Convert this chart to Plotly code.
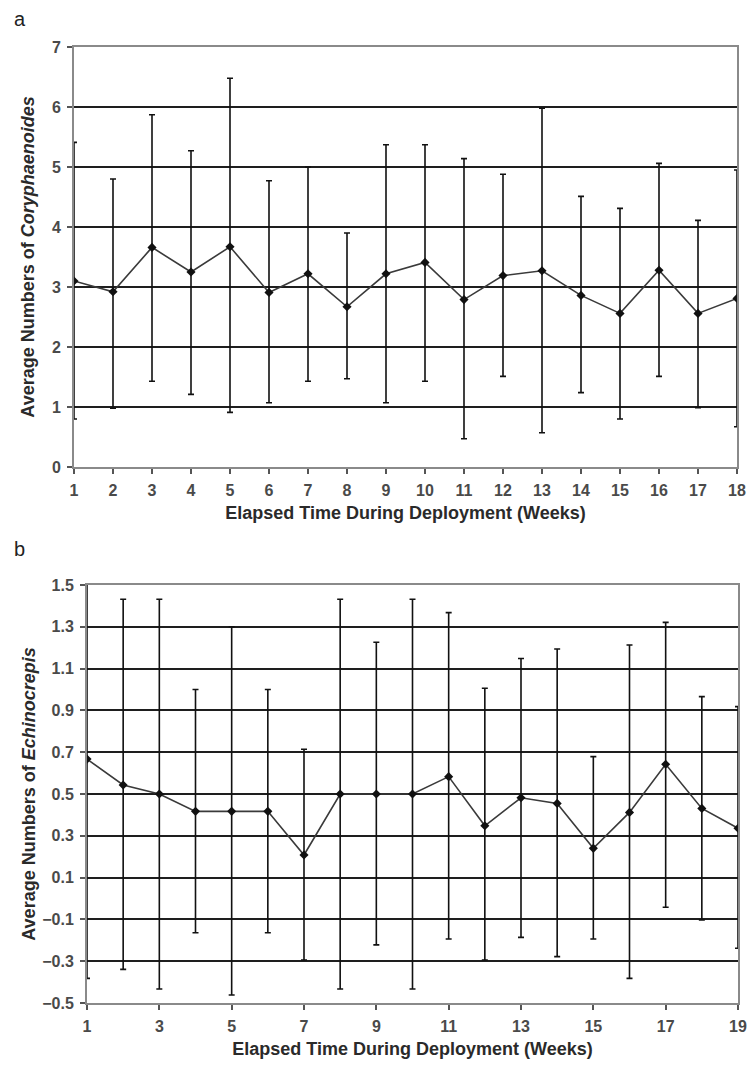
import plotly.graph_objects as go

# ---- data ----
weeks_a = list(range(1, 19))
mean_a = [3.10, 2.92, 3.66, 3.25, 3.67, 2.91, 3.22, 2.67, 3.22, 3.41, 2.79, 3.19, 3.27, 2.86, 2.56, 3.28, 2.56, 2.81]
upper_a = [5.41, 4.80, 5.87, 5.27, 6.48, 4.77, 5.00, 3.90, 5.37, 5.37, 5.14, 4.88, 5.98, 4.51, 4.31, 5.06, 4.11, 4.95]
lower_a = [0.80, 0.98, 1.43, 1.21, 0.91, 1.07, 1.43, 1.47, 1.07, 1.43, 0.47, 1.51, 0.57, 1.24, 0.80, 1.51, 0.99, 0.67]

weeks_b = list(range(1, 20))
mean_b = [0.667, 0.543, 0.50, 0.417, 0.417, 0.417, 0.208, 0.50, 0.50, 0.50, 0.583, 0.348, 0.482, 0.455, 0.240, 0.412, 0.642, 0.431, 0.336]
upper_b = [1.72, 1.432, 1.432, 1.00, 1.30, 1.00, 0.714, 1.432, 1.226, 1.432, 1.368, 1.006, 1.148, 1.194, 0.679, 1.213, 1.321, 0.966, 0.918]
lower_b = [-0.382, -0.339, -0.433, -0.164, -0.462, -0.164, -0.294, -0.433, -0.222, -0.433, -0.194, -0.294, -0.186, -0.278, -0.194, -0.382, -0.042, -0.103, -0.238]

x_title = "Elapsed Time During Deployment (Weeks)"
y_title_a = "Average Numbers of <i>Coryphaenoides</i>"
y_title_b = "Average Numbers of <i>Echinocrepis</i>"

FONT = "Liberation Sans, Arial, sans-serif"
W, H = 751, 1066

def err(mean, up, lo):
    return dict(type="data", symmetric=False,
                array=[u - m for u, m in zip(up, mean)],
                arrayminus=[m - l for m, l in zip(mean, lo)],
                color="#111111", thickness=1.6, width=3)

fig = go.Figure()
fig.add_trace(go.Scatter(
    x=weeks_a, y=mean_a, mode="lines+markers", xaxis="x", yaxis="y",
    line=dict(color="#3a3a3a", width=1.6),
    marker=dict(symbol="diamond", size=7, color="#111111"),
    error_y=err(mean_a, upper_a, lower_a), showlegend=False))
fig.add_trace(go.Scatter(
    x=weeks_b, y=mean_b, mode="lines+markers", xaxis="x2", yaxis="y2",
    line=dict(color="#3a3a3a", width=1.6),
    marker=dict(symbol="diamond", size=7, color="#111111"),
    error_y=err(mean_b, upper_b, lower_b), showlegend=False))

tickfont = dict(family=FONT, size=16, color="#4a4a4a", weight="bold")
titlefont = dict(family=FONT, size=18, color="#2a2a2a", weight="bold")

def xax(domain, anchor, dtick, rng):
    return dict(domain=domain, anchor=anchor, range=rng, dtick=dtick, tick0=1,
                showgrid=False, zeroline=False, showline=True, linecolor="#8a8a8a",
                linewidth=2, mirror=True, ticks="outside", ticklen=5, tickwidth=1.5,
                tickcolor="#555555", tickfont=tickfont, automargin=False,
                ticklabelstandoff=3,
                title=dict(text=x_title, font=titlefont, standoff=8))

def yax(domain, anchor, dtick, rng, tick0, title, standoff, fmt):
    return dict(domain=domain, anchor=anchor, range=rng, dtick=dtick, tick0=tick0,
                showgrid=True, gridcolor="#1e1e1e", gridwidth=1.5, zeroline=False,
                showline=True, linecolor="#8a8a8a", linewidth=2, mirror=True,
                ticks="outside", ticklen=5, tickwidth=1.5, tickcolor="#555555",
                tickfont=tickfont, automargin=False, tickformat=fmt,
                ticklabelstandoff=3,
                title=dict(text=title, font=titlefont, standoff=standoff))

fig.update_layout(
    width=W, height=H,
    margin=dict(l=0, r=0, t=0, b=0),
    paper_bgcolor="white", plot_bgcolor="white",
    xaxis=xax([74 / W, 737 / W], "y", 1, [1, 18]),
    yaxis=yax([1 - 467 / H, 1 - 47 / H], "x", 1, [0, 7], 0, y_title_a, 13, "d"),
    xaxis2=xax([87 / W, 738 / W], "y2", 2, [1, 19]),
    yaxis2=yax([1 - 1003 / H, 1 - 585 / H], "x2", 0.2, [-0.5, 1.5], -0.5, y_title_b, 2, ".1f"),
    annotations=[
        dict(text="a", x=12 / W, y=1 - 19 / H, xref="paper", yref="paper",
             showarrow=False, xanchor="left", yanchor="middle",
             font=dict(family=FONT, size=20, color="#222222")),
        dict(text="b", x=12 / W, y=1 - 549 / H, xref="paper", yref="paper",
             showarrow=False, xanchor="left", yanchor="middle",
             font=dict(family=FONT, size=20, color="#222222")),
    ],
)

fig.write_html("out.html")
